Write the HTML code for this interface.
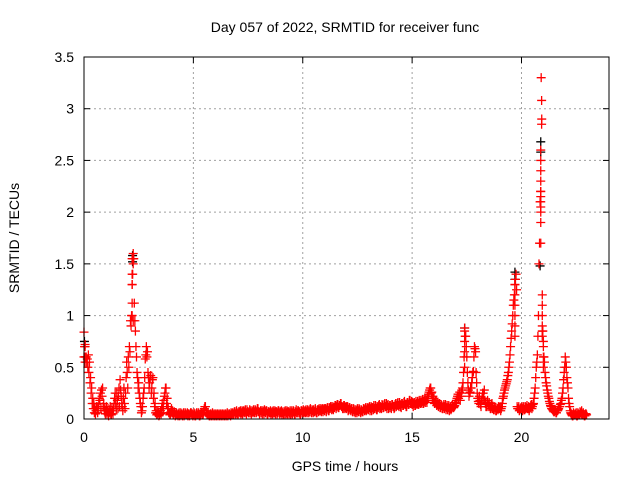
<!DOCTYPE html>
<html><head><meta charset="utf-8"><style>
body{margin:0;background:#fff}
svg{display:block;font-family:"Liberation Sans",sans-serif}
</style></head><body>
<svg id="chart" width="640" height="480" viewBox="0 0 640 480" xmlns="http://www.w3.org/2000/svg">
<rect width="640" height="480" fill="#fff"/>
<text x="345" y="32" font-size="14" text-anchor="middle" fill="#000">Day 057 of 2022, SRMTID for receiver func</text>
<text x="345" y="471" font-size="14" text-anchor="middle" fill="#000">GPS time / hours</text>
<text x="19" y="238" font-size="14" text-anchor="middle" fill="#000" transform="rotate(-90 19 238)">SRMTID / TECUs</text>
<g id="grid"></g>
<g id="ticks"></g>
<g id="marks"></g>
<rect x="84" y="57" width="525" height="362" fill="none" stroke="#000" stroke-width="1"/>
</svg>
<script>
const xTicks=[0,5,10,15,20];
const xTickLabels=["0","5","10","15","20"];
const yTicks=[0,0.5,1,1.5,2,2.5,3,3.5];
const yTickLabels=["0","0.5","1","1.5","2","2.5","3","3.5"];
const sampleStep=0.05;
const redValues=[
0.84,0.72,0.6,0.58,0.62,0.55,0.4,0.3,0.2,0.15,0.1,0.08,0.12,0.1,0.2,0.25,0.28,0.3,0.15,0.1,
0.08,0.05,0.1,0.06,0.12,0.04,0.08,0.1,0.2,0.15,0.25,0.1,0.3,0.38,0.22,0.12,0.2,0.15,0.25,0.55,
0.3,0.5,0.65,0.9,1.3,1.6,1.12,0.85,0.6,0.4,0.35,0.2,0.12,0.08,0.2,0.3,0.58,0.7,0.65,0.4,
0.35,0.42,0.3,0.4,0.25,0.15,0.08,0.05,0.06,0.04,0.08,0.1,0.12,0.18,0.25,0.3,0.2,0.1,0.06,0.05,
0.1,0.08,0.05,0.06,0.04,0.05,0.03,0.06,0.04,0.05,0.03,0.06,0.04,0.05,0.04,0.03,0.05,0.04,0.06,0.05,
0.04,0.05,0.03,0.06,0.04,0.05,0.03,0.04,0.06,0.05,0.1,0.12,0.08,0.05,0.04,0.03,0.05,0.04,0.03,0.05,
0.04,0.03,0.05,0.04,0.03,0.05,0.04,0.03,0.05,0.04,0.03,0.06,0.04,0.05,0.03,0.04,0.06,0.05,0.07,0.05,
0.06,0.05,0.07,0.08,0.06,0.05,0.08,0.07,0.06,0.09,0.07,0.06,0.08,0.05,0.07,0.09,0.06,0.08,0.07,0.1,
0.07,0.06,0.08,0.05,0.07,0.09,0.06,0.08,0.05,0.07,0.06,0.04,0.07,0.08,0.06,0.05,0.07,0.06,0.08,0.05,
0.06,0.04,0.07,0.05,0.08,0.06,0.05,0.07,0.06,0.04,0.08,0.06,0.07,0.05,0.09,0.06,0.08,0.07,0.05,0.08,
0.07,0.06,0.08,0.09,0.06,0.08,0.07,0.1,0.06,0.08,0.09,0.07,0.08,0.06,0.09,0.1,0.08,0.07,0.1,0.09,
0.08,0.1,0.09,0.11,0.08,0.1,0.12,0.1,0.09,0.11,0.13,0.12,0.14,0.11,0.13,0.15,0.12,0.1,0.13,0.11,
0.1,0.12,0.09,0.11,0.08,0.1,0.07,0.09,0.06,0.08,0.1,0.07,0.09,0.06,0.08,0.07,0.1,0.09,0.08,0.11,
0.09,0.12,0.1,0.08,0.11,0.13,0.1,0.12,0.09,0.11,0.14,0.12,0.1,0.13,0.11,0.15,0.12,0.1,0.14,0.11,
0.13,0.1,0.14,0.12,0.11,0.15,0.13,0.16,0.12,0.14,0.11,0.15,0.13,0.17,0.14,0.12,0.16,0.14,0.18,0.15,
0.14,0.12,0.16,0.13,0.15,0.17,0.14,0.16,0.18,0.15,0.17,0.19,0.16,0.18,0.2,0.24,0.28,0.3,0.26,0.22,
0.2,0.16,0.18,0.14,0.12,0.15,0.11,0.13,0.1,0.14,0.12,0.09,0.13,0.11,0.08,0.12,0.1,0.14,0.11,0.13,
0.15,0.2,0.24,0.22,0.18,0.25,0.3,0.45,0.88,0.8,0.6,0.35,0.22,0.26,0.3,0.4,0.46,0.7,0.65,0.35,
0.2,0.15,0.18,0.12,0.2,0.25,0.28,0.15,0.12,0.18,0.14,0.12,0.1,0.15,0.12,0.09,0.11,0.08,0.1,0.12,
0.1,0.08,0.12,0.2,0.25,0.3,0.34,0.38,0.45,0.55,0.7,0.85,1.0,1.15,1.3,1.4,0.12,0.1,0.08,0.1,
0.1,0.08,0.12,0.09,0.1,0.13,0.1,0.08,0.11,0.14,0.12,0.15,0.25,0.4,0.55,0.8,1.5,2.1,3.3,1.0,
0.7,0.55,0.4,0.32,0.25,0.2,0.15,0.12,0.1,0.08,0.07,0.09,0.06,0.08,0.1,0.12,0.15,0.2,0.3,0.45,
0.6,0.5,0.35,0.2,0.12,0.06,0.04,0.03,0.05,0.04,0.06,0.03,0.05,0.04,0.06,0.08,0.05,0.04,0.03,0.05
];
const redValuesB=[
0.7,0.6,0.55,0.5,0.45,0.35,0.25,0.15,0.1,0.06,0.05,0.12,0.06,0.15,0.18,0.1,0.22,0.12,0.08,0.05,
0.12,0.08,0.03,0.09,0.05,0.1,0.05,0.15,0.25,0.1,0.18,0.22,0.12,0.28,0.15,0.08,0.3,0.1,0.4,0.45,
0.6,0.7,0.95,1.0,1.4,1.55,0.95,0.7,0.45,0.3,0.25,0.15,0.06,0.12,0.25,0.4,0.62,0.6,0.45,0.3,
0.4,0.25,0.38,0.2,0.12,0.06,0.04,0.08,0.03,0.06,0.05,0.15,0.1,0.22,0.3,0.15,0.12,0.06,0.04,0.07,
0.06,0.04,0.07,0.03,0.06,0.04,0.05,0.03,0.06,0.04,0.05,0.03,0.06,0.04,0.06,0.05,0.03,0.06,0.04,0.03,
0.06,0.03,0.05,0.04,0.06,0.03,0.05,0.06,0.04,0.08,0.12,0.06,0.04,0.06,0.03,0.05,0.03,0.06,0.04,0.03,
0.05,0.04,0.03,0.05,0.04,0.03,0.05,0.04,0.03,0.05,0.04,0.03,0.05,0.04,0.06,0.05,0.04,0.07,0.05,0.08,
0.05,0.07,0.06,0.05,0.08,0.07,0.06,0.09,0.05,0.07,0.06,0.09,0.06,0.08,0.06,0.07,0.09,0.06,0.1,0.07,
0.05,0.08,0.06,0.08,0.05,0.07,0.08,0.05,0.07,0.06,0.08,0.06,0.05,0.06,0.08,0.07,0.05,0.08,0.06,0.07,
0.08,0.06,0.05,0.07,0.05,0.08,0.07,0.05,0.08,0.06,0.05,0.08,0.05,0.07,0.06,0.08,0.06,0.05,0.08,0.06,
0.09,0.07,0.06,0.07,0.09,0.06,0.09,0.07,0.09,0.06,0.07,0.1,0.06,0.09,0.07,0.08,0.1,0.09,0.07,0.1,
0.1,0.07,0.11,0.08,0.11,0.12,0.09,0.12,0.11,0.13,0.1,0.14,0.11,0.13,0.15,0.12,0.1,0.13,0.1,0.12,
0.12,0.08,0.11,0.09,0.1,0.07,0.1,0.07,0.09,0.06,0.08,0.1,0.07,0.09,0.07,0.1,0.08,0.11,0.09,0.1,
0.11,0.08,0.12,0.11,0.09,0.1,0.13,0.09,0.12,0.13,0.1,0.11,0.14,0.11,0.14,0.12,0.15,0.13,0.1,0.13,
0.11,0.14,0.12,0.1,0.14,0.12,0.15,0.13,0.16,0.12,0.15,0.13,0.16,0.14,0.12,0.16,0.14,0.18,0.15,0.17,
0.16,0.15,0.13,0.17,0.14,0.15,0.18,0.15,0.16,0.19,0.15,0.17,0.2,0.16,0.22,0.26,0.3,0.25,0.2,0.18,
0.15,0.18,0.13,0.16,0.14,0.11,0.14,0.1,0.12,0.1,0.14,0.11,0.09,0.13,0.1,0.09,0.13,0.11,0.12,0.16,
0.18,0.22,0.2,0.26,0.22,0.28,0.35,0.6,0.8,0.7,0.45,0.28,0.25,0.3,0.35,0.45,0.6,0.68,0.45,0.25,
0.17,0.22,0.14,0.18,0.25,0.2,0.18,0.12,0.16,0.12,0.16,0.1,0.13,0.1,0.09,0.12,0.08,0.1,0.09,0.1,
0.12,0.1,0.15,0.22,0.28,0.32,0.36,0.42,0.5,0.62,0.78,0.92,1.1,1.2,1.35,1.25,0.1,0.12,0.09,0.11,
0.12,0.1,0.09,0.12,0.11,0.1,0.12,0.1,0.13,0.1,0.14,0.2,0.3,0.5,0.62,1.0,1.7,2.2,2.9,0.85,
0.6,0.45,0.35,0.28,0.22,0.17,0.13,0.1,0.09,0.07,0.08,0.06,0.08,0.09,0.12,0.14,0.18,0.25,0.38,0.5,
0.55,0.4,0.3,0.15,0.08,0.05,0.03,0.06,0.04,0.05,0.03,0.06,0.04,0.07,0.05,0.04,0.06,0.03,0.05,0.04
];
const extraRedX=[0.0,0.05,0.05,0.05,2.2,2.2,2.2,2.2,2.2,2.25,2.25,2.25,17.4,17.4,17.4,17.4,19.7,19.7,19.7,19.7,19.7,19.7,
20.88,20.88,20.88,20.88,20.88,20.88,20.88,20.88,20.88,20.88,20.88,20.92,20.92,20.95,20.95,20.95,20.95,20.95,21.0,21.0,21.0];
const extraRedY=[0.6,0.7,0.6,0.55,1.55,1.4,1.3,1.12,1.0,1.5,1.55,0.95,0.85,0.75,0.65,0.5,1.3,1.2,1.1,1.0,0.9,0.8,
2.0,2.05,2.1,2.15,2.2,2.3,2.4,2.5,2.6,1.9,1.7,2.85,3.08,1.2,1.1,0.9,0.85,0.8,0.75,0.6,0.5];
const blackX=[0.02,2.22,2.22,17.4,19.7,19.7,20.88,20.88,20.85];
const blackY=[0.75,1.58,1.52,0.88,1.42,1.35,2.68,2.58,1.48];

const X0=84,X1=609,Y0=419,Y1=57,XMAX=24,YMAX=3.5;
function sx(v){return X0+(v/XMAX)*(X1-X0);}
function sy(v){return Y0-(v/YMAX)*(Y0-Y1);}
const NS="http://www.w3.org/2000/svg";
const grid=document.getElementById('grid'),ticks=document.getElementById('ticks'),marks=document.getElementById('marks');
function mk(tag,attrs,parent){const e=document.createElementNS(NS,tag);for(const k in attrs)e.setAttribute(k,attrs[k]);parent.appendChild(e);return e;}
xTicks.forEach((t,i)=>{
  const x=sx(t);
  if(t>0){const g=mk('line',{x1:x,x2:x,y1:Y1,y2:Y0,stroke:'#a0a0a0','stroke-dasharray':'2,3'},grid);
  
  }
  mk('line',{x1:x,x2:x,y1:Y0,y2:Y0-6,stroke:'#000'},ticks);
  mk('line',{x1:x,x2:x,y1:Y1,y2:Y1+6,stroke:'#000'},ticks);
  const l=mk('text',{x:x,y:Y0+23,'font-size':14,'text-anchor':'middle',fill:'#000'},ticks);
  l.textContent=xTickLabels[i];
  
  
});
yTicks.forEach((t,i)=>{
  const y=sy(t);
  if(t>0&&t<YMAX){const g=mk('line',{x1:X0,x2:X1,y1:y,y2:y,stroke:'#a0a0a0','stroke-dasharray':'2,3'},grid);
  
  }
  mk('line',{x1:X0,x2:X0+6,y1:y,y2:y,stroke:'#000'},ticks);
  mk('line',{x1:X1,x2:X1-6,y1:y,y2:y,stroke:'#000'},ticks);
  const l=mk('text',{x:X0-10,y:y+5,'font-size':14,'text-anchor':'end',fill:'#000'},ticks);
  l.textContent=yTickLabels[i];
  
  
});
function plus(x,y,color,name){
  const px=sx(x),py=sy(y);
  const p=mk('path',{d:`M${px-4.5} ${py}h9M${px} ${py-4.5}v9`,stroke:color,'stroke-width':1.3,fill:'none'},marks);
  
  
}
blackX.forEach((x,i)=>plus(x,blackY[i],'#000','black-point'));
redValues.forEach((v,i)=>plus(i*sampleStep,v,'#ff0000','red-point'));
redValuesB.forEach((v,i)=>plus(i*sampleStep+sampleStep/2,v,'#ff0000','red-point'));
extraRedX.forEach((x,i)=>plus(x,extraRedY[i],'#ff0000','red-point'));
</script>
</body></html>
